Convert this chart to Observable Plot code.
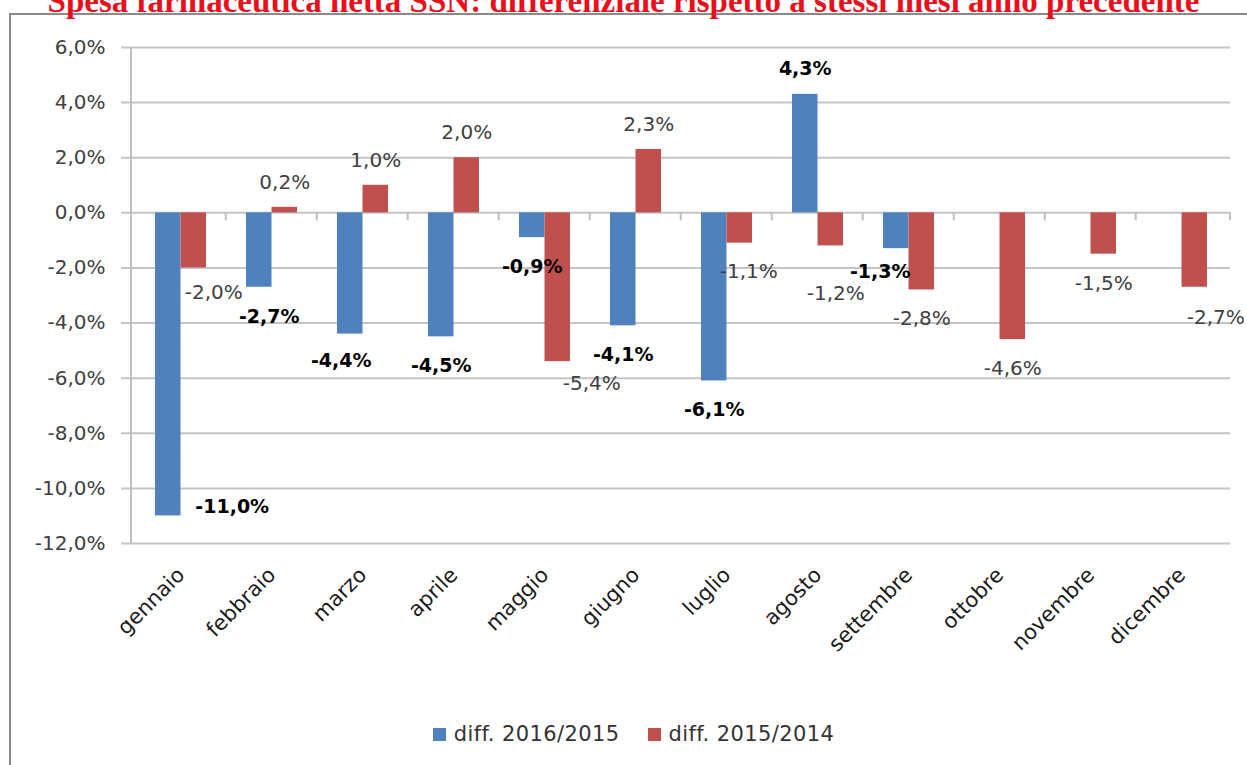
<!DOCTYPE html>
<html><head><meta charset="utf-8">
<script src="https://cdn.jsdelivr.net/npm/d3@7"></script>
<script src="https://cdn.jsdelivr.net/npm/@observablehq/plot@0.6"></script>
<style>
html,body{margin:0;padding:0;background:#fff;}
body{width:1247px;height:765px;overflow:hidden;position:relative;font-family:"DejaVu Sans",sans-serif;}
#frame{position:absolute;left:9px;top:13px;right:-10px;bottom:-10px;border-left:2px solid #8a8a8a;border-top:2px solid #8a8a8a;}
#title{position:absolute;left:0;width:1247px;top:-17px;line-height:33px;text-align:center;font:bold 33px "Liberation Serif",serif;color:#e8101c;white-space:nowrap;}
#chart{position:absolute;left:0;top:0;}
#legend{position:absolute;top:722px;left:10px;width:1247px;display:flex;justify-content:center;align-items:center;font-size:21px;letter-spacing:0.4px;color:#333;}
#legend .item{display:flex;align-items:center;margin:0 14px;}
#legend .sw{width:13px;height:13px;margin-right:8px;}
</style>
</head><body>
<div id="frame"></div>
<div id="title"></div>
<div id="chart"></div>
<div id="legend"></div>
<script>
const titleText = "Spesa farmaceutica netta SSN: differenziale rispetto a stessi mesi anno precedente";
const months = ["gennaio","febbraio","marzo","aprile","maggio","giugno","luglio","agosto","settembre","ottobre","novembre","dicembre"];
const diff2016 = [-11.0,-2.7,-4.4,-4.5,-0.9,-4.1,-6.1,4.3,-1.3,null,null,null];
const diff2015 = [-2.0,0.2,1.0,2.0,-5.4,2.3,-1.1,-1.2,-2.8,-4.6,-1.5,-2.7];
const seriesNames = ["diff. 2016/2015","diff. 2015/2014"];
const seriesColors = ["#4F81BD","#C0504D"];
const yTicks = [-12,-10,-8,-6,-4,-2,0,2,4,6];

document.getElementById("title").textContent = titleText;

const fmt = v => (v < 0 ? "-" : "") + Math.abs(v).toFixed(1).replace(".", ",") + "%";

const rowsA = months.map((m,i)=>({month:m, value:diff2016[i]})).filter(d=>d.value!=null);
const rowsB = months.map((m,i)=>({month:m, value:diff2015[i]}));

const W = 1247, ML = 131, MR = 17;
const PAD = 0.443;
const step = (W - ML - MR) / months.length;
const bw = step * (1 - PAD);
const half = bw / 2;
const q = bw / 4;

function labels(rows, sel, dx, dy, style) {
  return Plot.text(rows.filter(sel), {x:"month", y:"value", text:d=>fmt(d.value), dx, dy, lineAnchor:"middle", ...style});
}
const boldStyle = {fill:"#000", fontWeight:"bold", fontSize:19};
const regStyle = {fill:"#404040", fontSize:20};

const axisLines = (index, scales, values, dims) => {
  const g = d3.create("svg:g").attr("stroke", "#bfbfbf").attr("stroke-width", 2);
  g.append("line").attr("x1", dims.marginLeft).attr("x2", dims.marginLeft)
    .attr("y1", scales.y(6)).attr("y2", scales.y(-12));
  const y0 = scales.y(0);
  const bounds = months.map(m => scales.x(m) - (step - bw) / 2);
  bounds.push(dims.width - dims.marginRight);
  bounds.slice(1).forEach(b => {
    g.append("line").attr("x1", b).attr("x2", b).attr("y1", y0).attr("y2", y0 + 8);
  });
  return g.node();
};

const chart = Plot.plot({
  width: W, height: 640,
  marginLeft: ML, marginRight: MR, marginTop: 47, marginBottom: 97,
  style: {fontFamily: "DejaVu Sans, sans-serif", fontSize: "20px", background: "transparent", overflow: "visible"},
  x: {domain: months, paddingInner: PAD, paddingOuter: PAD / 2, label: null},
  y: {domain: [-12, 6], label: null},
  marks: [
    Plot.gridY(yTicks, {stroke: "#c4c4c4", strokeOpacity: 1, strokeWidth: 2, insetLeft: -10}),
    axisLines,
    Plot.axisY(yTicks, {tickSize: 0, tickPadding: 26, tickFormat: fmt, fill: "#404040", fontSize: 20, label: null}),
    Plot.axisX({tickSize: 0, tickRotate: -45, tickPadding: 28, fontSize: 21, fill: "#1a1a1a", label: null}),
    Plot.barY(rowsA, {x: "month", y: "value", fill: seriesColors[0], insetRight: half}),
    Plot.barY(rowsB, {x: "month", y: "value", fill: seriesColors[1], insetLeft: half}),
    // series A labels
    labels(rowsA, d => d.value > 0, -q, -25, boldStyle),
    labels(rowsA, d => d.value < 0 && !["gennaio","febbraio","settembre","marzo"].includes(d.month), -q, 29, boldStyle),
    labels(rowsA, d => d.month === "gennaio", -q + 64, -9, boldStyle),
    labels(rowsA, d => d.month === "febbraio", -q + 10, 30, boldStyle),
    labels(rowsA, d => d.month === "marzo", -q - 9, 27, boldStyle),
    labels(rowsA, d => d.month === "settembre", -q - 16, 23, boldStyle),
    // series B labels
    labels(rowsB, d => d.value > 0, q, -25, regStyle),
    labels(rowsB, d => d.value < 0 && !["gennaio","maggio","luglio","agosto","dicembre"].includes(d.month), q, 29, regStyle),
    labels(rowsB, d => d.month === "gennaio", q + 20, 25, regStyle),
    labels(rowsB, d => d.month === "maggio", q + 34, 22, regStyle),
    labels(rowsB, d => d.month === "luglio", q + 9, 28, regStyle),
    labels(rowsB, d => d.month === "agosto", q + 5, 48, regStyle),
    labels(rowsB, d => d.month === "dicembre", q + 21, 30, regStyle)
  ]
});
document.getElementById("chart").appendChild(chart);

const legend = document.getElementById("legend");
seriesNames.forEach((n,i)=>{
  const it = document.createElement("div"); it.className = "item";
  const sw = document.createElement("div"); sw.className = "sw"; sw.style.background = seriesColors[i];
  const t = document.createElement("span"); t.textContent = n;
  it.appendChild(sw); it.appendChild(t); legend.appendChild(it);
});
</script>
</body></html>
